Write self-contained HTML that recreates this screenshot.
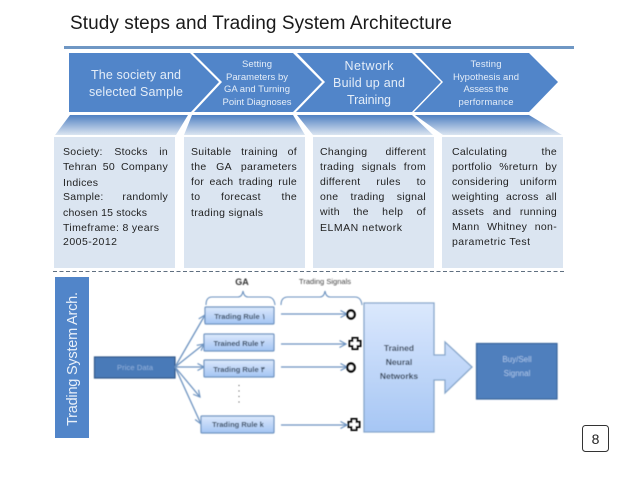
<!DOCTYPE html>
<html><head><meta charset="utf-8"><style>
html,body{margin:0;padding:0;background:#fff;width:638px;height:479px;overflow:hidden}
svg{position:absolute;left:0;top:0}
text{font-family:"Liberation Sans",sans-serif}
.l{position:absolute;height:14px;font:10.5px/14px "Liberation Sans",sans-serif;letter-spacing:.3px;color:#1f1f1f;text-align:justify;text-align-last:justify;white-space:normal}
</style></head><body>
<svg width="638" height="479" viewBox="0 0 638 479">
<defs>
<linearGradient id="t" x1="0" y1="0" x2="0" y2="1"><stop offset="0" stop-color="#5080c2"/><stop offset="1" stop-color="#dbe5f1"/></linearGradient>
<linearGradient id="r" x1="0" y1="0" x2="0" y2="1"><stop offset="0" stop-color="#dce9fc"/><stop offset="1" stop-color="#a3c4f3"/></linearGradient>
<linearGradient id="n" x1="0" y1="0" x2="0" y2="1"><stop offset="0" stop-color="#dbe8fd"/><stop offset="1" stop-color="#a6c6f4"/></linearGradient>
<filter id="b" x="-5%" y="-5%" width="110%" height="110%"><feGaussianBlur stdDeviation="0.45"/></filter>
<marker id="a" markerWidth="9" markerHeight="9" refX="7.5" refY="4" orient="auto" markerUnits="userSpaceOnUse"><path d="M1 0.5L7.5 4L1 7.5" fill="none" stroke="#6d93c0" stroke-width="1.2"/></marker>
</defs>
<text x="70" y="29" font-size="19" fill="#1a1a1a" textLength="382">Study steps and Trading System Architecture</text>
<rect x="64" y="46" width="510" height="3" fill="#6f97c4"/>
<g fill="#5185c9">
<polygon points="69,53 190,53 219,82 191,112 69,112"/>
<polygon points="193,53 293,53 322,82 293,112 194,112 222,82"/>
<polygon points="297,53 412,53 441,82 412,112 296,112 325,82"/>
<polygon points="415,53 529,53 558,82 529,112 414,112 443,82"/>
</g>
<g fill="url(#t)">
<polygon points="70,115 188,115 176,135 55,135"/>
<polygon points="192,115 293,115 305,135 184,135"/>
<polygon points="297,115 412,115 433,135 313,135"/>
<polygon points="415,115 529,115 562,135 443,135"/>
</g>
<g fill="#dbe5f1">
<rect x="54" y="137" width="121" height="131"/>
<rect x="184" y="137" width="121" height="131"/>
<rect x="313" y="137" width="121" height="131"/>
<rect x="442" y="137" width="121" height="131"/>
</g>
<line x1="53" y1="271.5" x2="564" y2="271.5" stroke="#5f6f80" stroke-width="1" stroke-dasharray="4 2.5"/>
<g font-size="10.5" fill="#1f1f1f">
<text x="63" y="186" textLength="35">Indices</text>
<text x="63" y="216" textLength="84">chosen 15 stocks</text>
<text x="63" y="231" textLength="96">Timeframe: 8 years</text>
<text x="63" y="245" textLength="54">2005-2012</text>
<text x="191" y="216" textLength="72">trading signals</text>
<text x="320" y="231" textLength="82">ELMAN network</text>
<text x="452" y="245" textLength="78">parametric Test</text>
</g>
<g fill="#e4edf8" text-anchor="middle">
<text x="136" y="79" font-size="12.5" textLength="90">The society and</text>
<text x="136" y="96" font-size="12.5" textLength="94">selected Sample</text>
<text x="369" y="70" font-size="12.5" textLength="49">Network</text>
<text x="369" y="87" font-size="12.5" textLength="72">Build up and</text>
<text x="369" y="104" font-size="12.5" textLength="44">Training</text>
<g font-size="9.5">
<text x="257" y="67" textLength="30">Setting</text>
<text x="257" y="80" textLength="62">Parameters by</text>
<text x="257" y="92" textLength="66">GA and Turning</text>
<text x="257" y="105" textLength="69">Point Diagnoses</text>
<text x="486" y="67" textLength="31">Testing</text>
<text x="486" y="80" textLength="66">Hypothesis and</text>
<text x="486" y="92" textLength="45">Assess the</text>
<text x="486" y="105" textLength="55">performance</text>
</g>
</g>
<rect x="55" y="277" width="34" height="161" fill="#5185c9"/>
<text transform="translate(77,359) rotate(-90)" text-anchor="middle" font-size="14.5" fill="#e9f0f9" textLength="134">Trading System Arch.</text>
<g filter="url(#b)">
<rect x="94.5" y="357" width="80.500" height="21" fill="#4a7ab8" stroke="#2f5688" stroke-width="1.200"/>
<text x="135" y="370" text-anchor="middle" font-size="7.500" fill="#8fb0dc" textLength="36">Price Data</text>
<g stroke="#6d93c0" stroke-width="1.300" fill="none">
<line x1="175" y1="367" x2="205" y2="315" marker-end="url(#a)"/>
<line x1="175" y1="367" x2="204" y2="344" marker-end="url(#a)"/>
<line x1="175" y1="367" x2="204" y2="367" marker-end="url(#a)"/>
<line x1="175" y1="367" x2="200" y2="397" marker-end="url(#a)"/>
<line x1="175" y1="367" x2="201" y2="424" marker-end="url(#a)"/>
<line x1="281" y1="314" x2="347" y2="314" marker-end="url(#a)"/>
<line x1="281" y1="344" x2="346" y2="344" marker-end="url(#a)"/>
<line x1="281" y1="367" x2="347" y2="367" marker-end="url(#a)"/>
<line x1="281" y1="425" x2="347" y2="425" marker-end="url(#a)"/>
</g>
<g fill="url(#r)" stroke="#6d93c0" stroke-width="1.200">
<rect x="205" y="307" width="69" height="17" rx="1"/>
<rect x="204" y="334" width="70" height="17" rx="1"/>
<rect x="204" y="360" width="70" height="17" rx="1"/>
<rect x="201" y="416" width="73" height="17" rx="1"/>
</g>
<g font-size="7.500" fill="#33475f" text-anchor="middle" font-weight="bold">
<text x="240" y="319">Trading Rule ۱</text>
<text x="239" y="346">Trained Rule ۲</text>
<text x="239" y="372">Trading Rule ۳</text>
<text x="238" y="427">Trading Rule k</text>
</g>
<line x1="239" y1="385" x2="239" y2="403" stroke="#444" stroke-width="1" stroke-dasharray="1 4.500"/>
<text x="242" y="285" font-size="9" text-anchor="middle" fill="#333" font-weight="bold">GA</text>
<text x="325" y="284" font-size="7.500" text-anchor="middle" fill="#444" textLength="52">Trading Signals</text>
<g fill="none" stroke="#6d93c0" stroke-width="1.100">
<path d="M206 305Q206 297 212 297H238Q242 297 243 291Q244 297 248 297H268Q274 297 275 305"/>
<path d="M281 305Q281 297 288 297H320Q324 297 325 291Q326 297 330 297H355Q361 297 362 305"/>
</g>
<g fill="#fff" stroke="#000" stroke-width="2.400">
<ellipse cx="351" cy="314.500" rx="3.700" ry="4"/>
<ellipse cx="351" cy="367.500" rx="3.700" ry="4"/>
<path d="M352.500 338h5v3h3v5h-3v3h-5v-3h-3v-5h3z" stroke-width="2"/>
<path d="M351.500 419h5v3h3v5h-3v3h-5v-3h-3v-5h3z" stroke-width="2"/>
</g>
<polygon points="364,303 434,303 434,355 445,355 445,342 472,367 445,393 445,380 434,380 434,432 364,432" fill="url(#n)" stroke="#86a6ca" stroke-width="1.300"/>
<g font-size="8.500" fill="#2f3f52" text-anchor="middle" font-weight="bold">
<text x="399" y="351">Trained</text>
<text x="399" y="365">Neural</text>
<text x="399" y="379">Networks</text>
</g>
<rect x="476.500" y="343.500" width="80.500" height="55.500" fill="#4f7fbd" stroke="#3a659c" stroke-width="1.200"/>
<g font-size="8" fill="#a9c4e8" text-anchor="middle">
<text x="517" y="362">Buy/Sell</text>
<text x="517" y="376">Signnal</text>
</g>
</g>
<rect x="582.500" y="425.500" width="26" height="26" rx="3" fill="#fff" stroke="#333" stroke-width="1"/>
<text x="595.500" y="444" font-size="14" text-anchor="middle" fill="#222">8</text>
</svg>
<div class="l" style="left:63px;top:145px;width:105px">Society: Stocks in</div>
<div class="l" style="left:63px;top:160px;width:105px">Tehran 50 Company</div>
<div class="l" style="left:63px;top:190px;width:105px">Sample: randomly</div>
<div class="l" style="left:191px;top:145px;width:106px">Suitable training of</div>
<div class="l" style="left:191px;top:160px;width:106px">the GA parameters</div>
<div class="l" style="left:191px;top:175px;width:106px">for each trading rule</div>
<div class="l" style="left:191px;top:190px;width:106px">to forecast the</div>
<div class="l" style="left:320px;top:145px;width:106px">Changing different</div>
<div class="l" style="left:320px;top:160px;width:106px">trading signals from</div>
<div class="l" style="left:320px;top:175px;width:106px">different rules to</div>
<div class="l" style="left:320px;top:190px;width:106px">one trading signal</div>
<div class="l" style="left:320px;top:205px;width:106px">with the help of</div>
<div class="l" style="left:452px;top:145px;width:105px">Calculating the</div>
<div class="l" style="left:452px;top:160px;width:105px">portfolio %return by</div>
<div class="l" style="left:452px;top:175px;width:105px">considering uniform</div>
<div class="l" style="left:452px;top:190px;width:105px">weighting across all</div>
<div class="l" style="left:452px;top:205px;width:105px">assets and running</div>
<div class="l" style="left:452px;top:220px;width:105px">Mann Whitney non-</div>
</body></html>
